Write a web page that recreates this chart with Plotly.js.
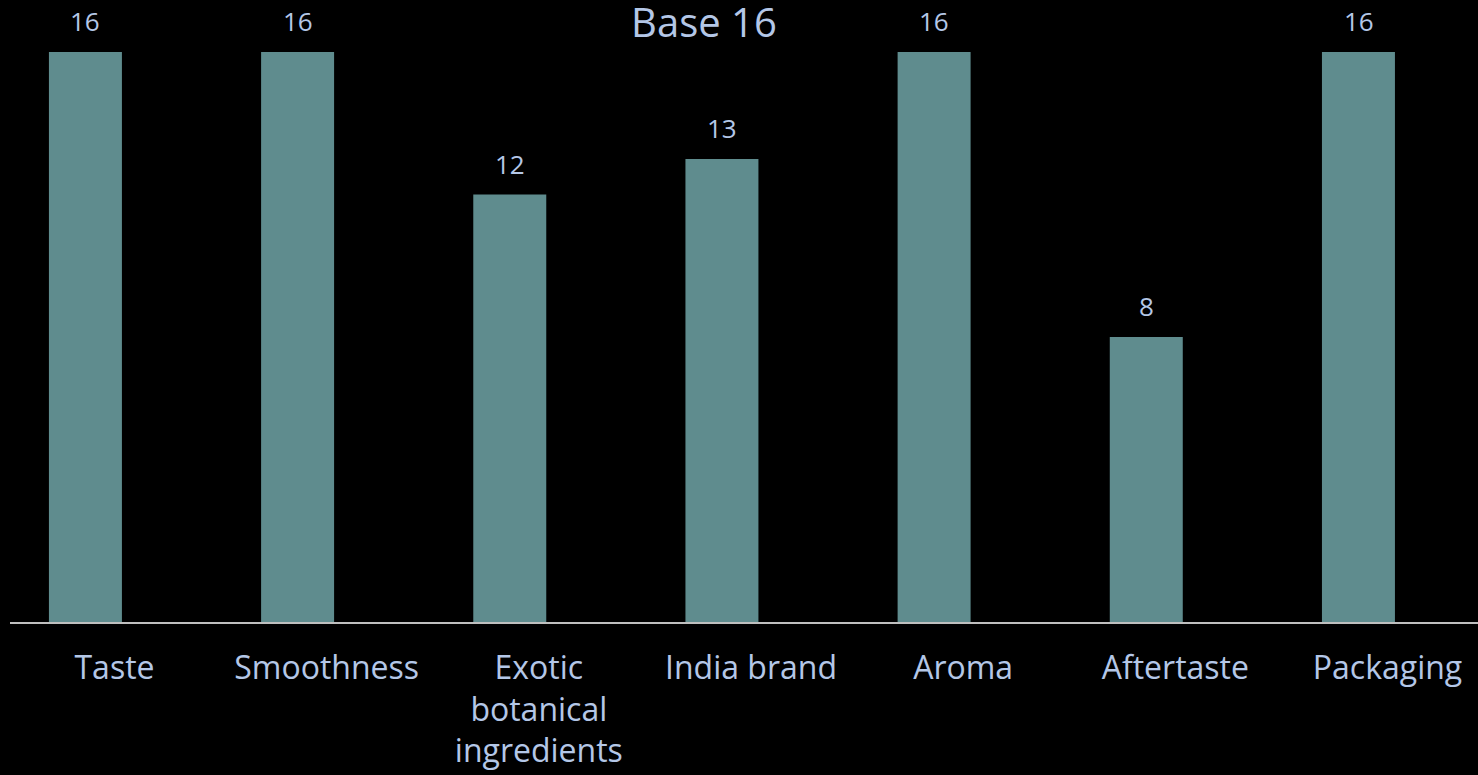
<!DOCTYPE html>
<html>
<head>
<meta charset="utf-8">
<script src="https://cdn.plot.ly/plotly-3.0.1.min.js"></script>
<style>html,body{margin:0;padding:0;background:#000;}#chart{width:1478px;height:775px;}</style>
</head>
<body>
<div id="chart"></div>
<script>
const categories = ["Taste", "Smoothness", "Exotic<br>botanical<br>ingredients", "India brand", "Aroma", "Aftertaste", "Packaging"];
const values = [16, 16, 12, 13, 16, 8, 16];
const chartTitle = "Base 16";

const textColor = "#B4C7E7";
const barColor = "#5F8C8E";

const trace = {
  type: "bar",
  x: categories,
  y: values,
  offset: -0.309,
  width: 0.344,
  marker: { color: barColor, line: { width: 0 } },
  hoverinfo: "skip"
};

const annotations = categories.map((c, i) => ({
  x: c, y: values[i], xref: "x", yref: "y",
  text: String(values[i]),
  showarrow: false,
  xanchor: "center", yanchor: "middle",
  xshift: -29, yshift: 31,
  font: { family: "Open Sans, sans-serif", size: 26, color: textColor }
}));

const layout = {
  width: 1478, height: 775,
  paper_bgcolor: "#000", plot_bgcolor: "#000",
  margin: { l: 10, r: 0, t: 0, b: 153 },
  showlegend: false,
  title: {
    text: chartTitle,
    font: { family: "Open Sans, sans-serif", size: 40, color: textColor },
    xref: "container", yref: "container",
    x: 0.4763, xanchor: "center",
    y: 0.97, yanchor: "middle"
  },
  xaxis: {
    type: "category",
    range: [-0.4925, 6.4265],
    showline: true, linecolor: "#BFBFBF", linewidth: 1.5,
    showgrid: false, zeroline: false, ticks: "",
    ticklabelstandoff: 17,
    tickfont: { family: "Open Sans, sans-serif", size: 32, color: textColor },
    fixedrange: true
  },
  yaxis: {
    range: [0, 17.46],
    visible: false, showgrid: false, zeroline: false, fixedrange: true
  },
  annotations: annotations
};

Plotly.newPlot("chart", [trace], layout, { displayModeBar: false, staticPlot: true });
</script>
</body>
</html>
